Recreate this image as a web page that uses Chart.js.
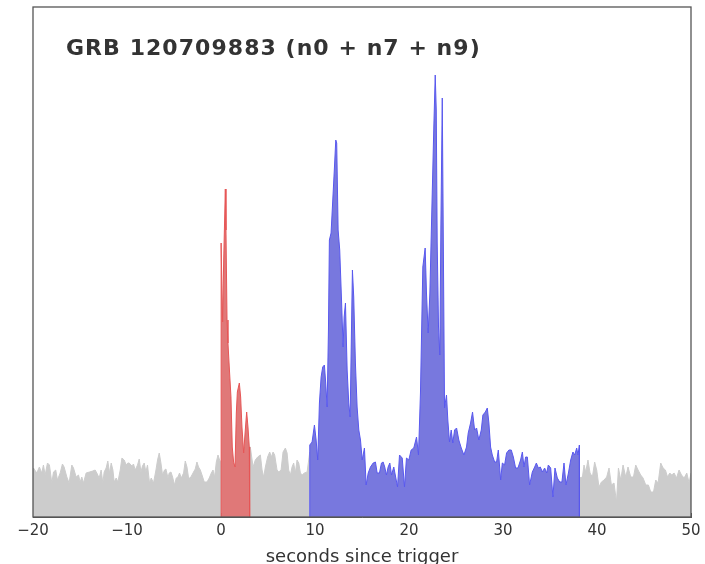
<!DOCTYPE html>
<html>
<head>
<meta charset="utf-8">
<script src="https://cdn.jsdelivr.net/npm/chart.js@4"></script>
<style>
  html, body { margin: 0; padding: 0; background: #ffffff; }
  #c { display: block; }
</style>
</head>
<body>
<canvas id="c" width="705" height="564"></canvas>
<script>
// ---- Data (time in s since trigger, counts in arbitrary units) ----
const chartTitle = "GRB 120709883 (n0 + n7 + n9)";
const xAxisLabel = "seconds since trigger";
const xTickValues = [-20, -10, 0, 10, 20, 30, 40, 50];

// background before the trigger
const preTimes = [-20,-19.95,-19.6,-19.32,-19.07,-18.89,-18.71,-18.46,-18.25,-18,-17.82,-17.58,-17.4,-17.11,-16.87,-16.69,-16.4,-16.16,-15.87,-15.69,-15.41,-15.16,-14.98,-14.81,-14.63,-14.35,-13.99,-13.64,-13.39,-13.21,-12.96,-12.75,-12.57,-12.43,-12.22,-12.04,-11.86,-11.68,-11.5,-11.36,-11.15,-10.97,-10.72,-10.54,-10.3,-10.08,-9.91,-9.77,-9.48,-9.31,-9.13,-8.88,-8.7,-8.52,-8.35,-8.17,-7.99,-7.82,-7.6,-7.42,-7.18,-6.92,-6.75,-6.57,-6.39,-6.22,-6.01,-5.86,-5.64,-5.51,-5.32,-5.15,-4.94,-4.76,-4.58,-4.41,-4.23,-3.98,-3.8,-3.62,-3.45,-3.27,-3.09,-2.92,-2.74,-2.56,-2.39,-2.2,-2.02,-1.78,-1.49,-1.25,-1.03,-0.85,-0.68,-0.5,-0.32,-0.15,0];
const preCounts = [47,49,44,50,44,52,42,54,52,34,45,47,37,44,53,50,40,34,52,49,40,42,35,40,34,44,45,46,47,44,39,47,34,45,49,56,44,54,47,35,39,35,47,59,57,52,54,54,51,53,47,52,58,45,51,54,45,52,34,39,34,47,57,64,54,42,47,48,39,44,45,40,32,39,40,44,39,44,56,50,39,39,42,45,48,55,50,47,42,35,35,39,44,47,40,55,62,57,55];

// first pulse (red interval)
const redTimes = [0,0,0.03,0.17,0.28,0.46,0.53,0.64,0.74,0.88,1.06,1.2,1.34,1.49,1.63,1.74,1.95,2.09,2.23,2.41,2.56,2.73,2.87,3.01,3.05,3.05];
const redCounts = [0,274,270,195,254,328,287,197,174,150,120,70,55,50,104,125,134,120,90,64,84,105,90,70,65,0];

// background between the two intervals
const midTimes = [3.05,3.12,3.41,3.65,3.9,4.19,4.37,4.54,4.72,4.96,5.18,5.36,5.54,5.71,5.96,6.14,6.39,6.6,6.85,7.03,7.2,7.38,7.56,7.73,7.91,8.09,8.27,8.45,8.63,8.87,9.16,9.33,9.44];
const midCounts = [70,70,50,57,60,62,47,40,50,60,65,60,65,62,47,45,47,65,69,64,47,42,50,54,44,57,54,44,42,44,45,57,65];

// main emission (blue interval)
const blueTimes = [9.44,9.44,9.69,9.94,10.12,10.29,10.47,10.65,10.82,11,11.14,11.29,11.43,11.53,11.71,11.89,12.07,12.21,12.31,12.46,12.63,12.81,12.99,13.1,13.24,13.42,13.59,13.74,13.88,13.98,14.12,14.3,14.48,14.66,14.84,15.02,15.26,15.44,15.66,15.9,16.19,16.43,16.61,16.86,17.07,17.25,17.42,17.6,17.78,17.96,18.14,18.38,18.64,18.78,18.99,19.28,19.52,19.73,19.98,20.23,20.51,20.8,21.01,21.22,21.47,21.72,21.86,22.04,22.22,22.43,22.64,22.79,22.9,23,23.14,23.28,23.39,23.54,23.64,23.78,23.99,24.13,24.31,24.49,24.66,24.85,25.06,25.3,25.56,25.84,26.12,26.3,26.55,26.76,26.98,27.19,27.43,27.69,27.86,28.12,28.33,28.5,28.68,28.86,29.11,29.32,29.5,29.75,29.93,30.17,30.38,30.63,30.88,31.1,31.34,31.59,31.87,32.06,32.23,32.41,32.59,32.83,33.12,33.37,33.55,33.76,33.97,34.19,34.43,34.65,34.82,35.07,35.31,35.53,35.78,36.03,36.27,36.49,36.7,36.96,37.2,37.44,37.63,37.84,37.98,38.13,38.13];
const blueCounts = [0,72,75,92,77,57,114,140,150,152,134,110,187,277,284,317,350,377,374,287,267,220,170,200,214,147,114,100,187,247,220,154,110,87,77,57,69,32,44,50,54,55,44,44,54,55,50,42,50,54,42,50,37,30,62,59,30,59,57,67,69,80,62,124,250,269,224,184,224,307,390,442,407,274,190,162,290,419,290,109,122,97,75,87,74,87,89,77,69,62,70,84,94,105,87,89,77,87,102,105,109,94,70,62,55,55,67,37,54,52,64,67,67,60,49,49,57,65,50,60,60,32,45,50,54,49,50,45,49,44,52,49,20,49,39,35,35,54,32,44,57,65,62,69,62,72,0];

// background after the interval
const postTimes = [38.13,38.19,38.45,38.62,38.8,39.04,39.26,39.51,39.75,39.97,40.21,40.47,40.75,41.03,41.28,41.53,41.81,42.07,42.28,42.53,42.77,43.06,43.3,43.59,43.88,44.12,44.37,44.65,44.9,45.19,45.47,45.72,46.01,46.25,46.5,46.78,47.03,47.28,47.5,47.74,47.95,48.2,48.46,48.73,48.99,49.27,49.55,49.8,50];
const postCounts = [39,39,40,52,45,57,44,40,55,47,30,35,37,40,49,32,34,15,49,37,52,40,50,40,40,52,47,42,39,32,32,25,25,37,34,54,49,47,40,44,42,44,39,47,42,39,44,34,44];

// ---- helpers ----
function pts(ts, vs) { return ts.map((t, i) => ({ x: t, y: vs[i] })); }

const GRAY = '#cccccc';
const RED_FILL = '#e07878';
const RED_LINE = '#e65656';
const BLUE_FILL = '#7878de';
const BLUE_LINE = '#5858ee';

function seg(data, fillC, lineC, bw) {
  return {
    data: data,
    backgroundColor: fillC,
    borderColor: lineC,
    borderWidth: bw,
    fill: 'origin',
    pointRadius: 0,
    tension: 0,
    spanGaps: false
  };
}

const framePlugin = {
  id: 'frameAndTitle',
  afterDraw(chart) {
    const a = chart.chartArea;
    const ctx = chart.ctx;
    ctx.save();
    ctx.strokeStyle = '#555555';
    ctx.lineWidth = 1.3;
    ctx.strokeRect(a.left, a.top, a.right - a.left, a.bottom - a.top);
    ctx.fillStyle = '#333333';
    ctx.font = 'bold 22px "DejaVu Sans"';
    ctx.textBaseline = 'alphabetic';
    ctx.textAlign = 'left';
    if ('letterSpacing' in ctx) ctx.letterSpacing = '1.05px';
    ctx.fillText(chartTitle, a.left + 33, a.top + 47.5);
    ctx.restore();
  }
};

new Chart(document.getElementById('c'), {
  type: 'line',
  data: {
    datasets: [
      seg(pts(redTimes, redCounts), RED_FILL, RED_LINE, 1),
      seg(pts(blueTimes, blueCounts), BLUE_FILL, BLUE_LINE, 1),
      seg(pts(preTimes, preCounts), GRAY, GRAY, 1),
      seg(pts(midTimes, midCounts), GRAY, GRAY, 1),
      seg(pts(postTimes, postCounts), GRAY, GRAY, 1)
    ]
  },
  options: {
    responsive: false,
    animation: false,
    layout: { padding: { left: 33, right: 14, top: 7, bottom: 0 } },
    plugins: { legend: { display: false }, tooltip: { enabled: false }, title: { display: false } },
    scales: {
      x: {
        type: 'linear',
        min: -20,
        max: 50,
        afterBuildTicks(scale) { scale.ticks = xTickValues.map(v => ({ value: v })); },
        afterFit(scale) { scale.height = 47; scale.paddingLeft = 0; scale.paddingRight = 0; },
        grid: { drawOnChartArea: false, drawTicks: true, tickLength: -4, color: '#555555', lineWidth: 1 },
        border: { display: true, color: '#555555', width: 1 },
        ticks: {
          padding: 9,
          color: '#333333',
          font: { family: '"DejaVu Sans"', size: 15 },
          maxRotation: 0,
          callback: (v) => (v < 0 ? '\u2212' + Math.abs(v) : String(v))
        },
        title: {
          display: true,
          text: xAxisLabel,
          color: '#333333',
          font: { family: '"DejaVu Sans"', size: 18 },
          padding: { top: 0, bottom: -4 }
        }
      },
      y: {
        type: 'linear',
        display: false,
        min: 0,
        max: 510
      }
    }
  },
  plugins: [framePlugin]
});
</script>
</body>
</html>
